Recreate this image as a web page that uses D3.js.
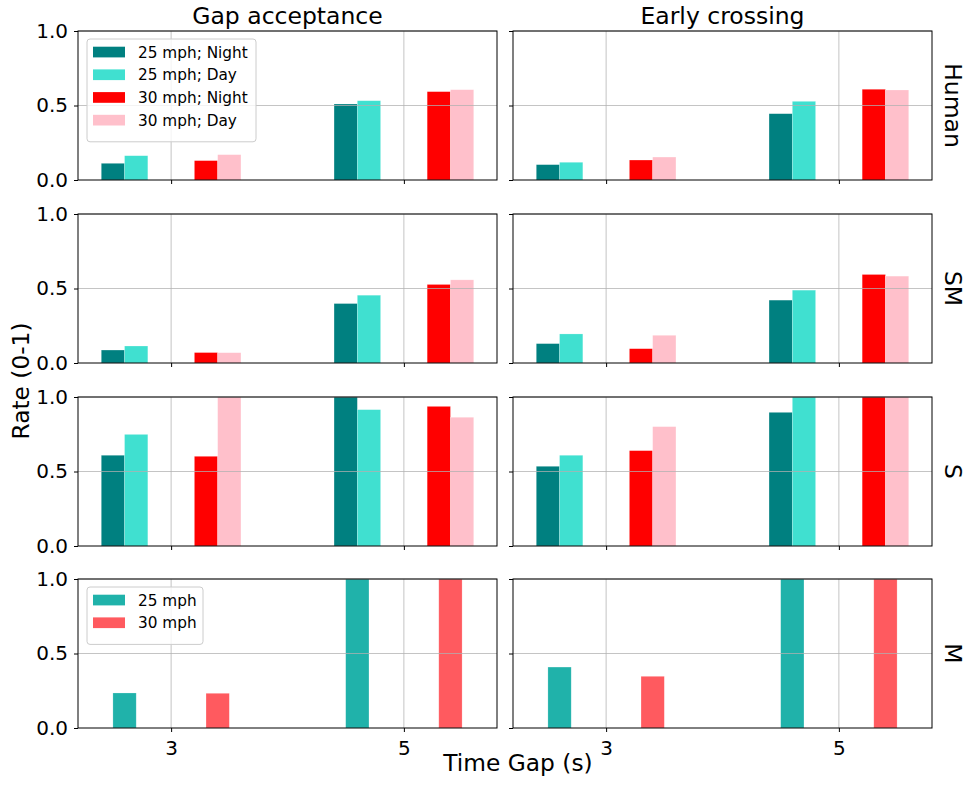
<!DOCTYPE html>
<html>
<head>
<meta charset="utf-8">
<script src="https://cdn.jsdelivr.net/npm/d3@7"></script>
<style>
  html, body { margin: 0; padding: 0; background: #fff; }
  svg { display: block; font-family: "DejaVu Sans", sans-serif; }
</style>
</head>
<body>
<svg id="chart" width="968" height="785"></svg>
<script>
// Time gaps (s) shown on the x axis
const timeGaps = [3, 5];
const xTickLabels = ["3", "5"];
const yTicks = [0, 0.5, 1.0];

// Column and row headers
const panelTitles = ["Gap acceptance", "Early crossing"];
const rowLabels = ["Human", "SM", "S", "M"];

// Series for the first three rows (speed × lighting)
const conditionNames = ["25 mph; Night", "25 mph; Day", "30 mph; Night", "30 mph; Day"];
const conditionColors = ["#008080", "#40e0d0", "#ff0000", "#ffc0cb"];

// Series for the last row (speed only)
const speedNames = ["25 mph", "30 mph"];
const speedColors = ["#20b2aa", "#ff5a5f"];

// Rates per series, values at [3 s, 5 s]
const humanGapAcceptance = [
  [0.112, 0.510],
  [0.163, 0.532],
  [0.130, 0.593],
  [0.170, 0.606]
];
const humanEarlyCrossing = [
  [0.103, 0.445],
  [0.119, 0.528],
  [0.134, 0.609],
  [0.154, 0.604]
];
const smGapAcceptance = [
  [0.087, 0.399],
  [0.114, 0.455],
  [0.070, 0.527],
  [0.069, 0.558]
];
const smEarlyCrossing = [
  [0.130, 0.422],
  [0.195, 0.489],
  [0.096, 0.594],
  [0.186, 0.583]
];
const sGapAcceptance = [
  [0.609, 1.000],
  [0.749, 0.915],
  [0.602, 0.937],
  [1.000, 0.864]
];
const sEarlyCrossing = [
  [0.535, 0.897],
  [0.609, 1.000],
  [0.640, 1.000],
  [0.801, 1.000]
];
const mGapAcceptance = [
  [0.235, 1.000],
  [0.233, 1.000]
];
const mEarlyCrossing = [
  [0.409, 1.000],
  [0.347, 1.000]
];

const rows = [
  { label: rowLabels[0], panels: [humanGapAcceptance, humanEarlyCrossing], names: conditionNames, colors: conditionColors, legend: true },
  { label: rowLabels[1], panels: [smGapAcceptance, smEarlyCrossing], names: conditionNames, colors: conditionColors, legend: false },
  { label: rowLabels[2], panels: [sGapAcceptance, sEarlyCrossing], names: conditionNames, colors: conditionColors, legend: false },
  { label: rowLabels[3], panels: [mGapAcceptance, mEarlyCrossing], names: speedNames, colors: speedColors, legend: true }
];

// Layout
const panelW = 419, panelH = 149;
const colX = [78, 513];
const rowY = [31, 214, 397, 579];
const barW = 0.2;

const svg = d3.select("#chart");

const x = d3.scaleLinear().domain([2.2, 5.8]).range([0, panelW]);
const y = d3.scaleLinear().domain([0, 1]).range([panelH, 0]);

// Bar centre relative to its time gap: speed groups at ±0.4, lighting pairs at ±0.1
function barCenter(seriesIndex, nSeries, gap) {
  if (nSeries === 4) {
    const speed = Math.floor(seriesIndex / 2);
    const light = seriesIndex % 2;
    return gap + (speed ? 0.4 : -0.4) + (light ? 0.1 : -0.1);
  }
  return gap + (seriesIndex ? 0.4 : -0.4);
}

rows.forEach((row, ri) => {
  row.panels.forEach((series, ci) => {
    const g = svg.append("g").attr("transform", `translate(${colX[ci]},${rowY[ri]})`);

    // bars
    series.forEach((vals, si) => {
      g.selectAll(null)
        .data(vals.map((v, gi) => ({ gap: timeGaps[gi], v })))
        .join("rect")
        .attr("x", d => x(barCenter(si, series.length, d.gap) - barW / 2))
        .attr("width", d => x(barCenter(si, series.length, d.gap) + barW / 2) - x(barCenter(si, series.length, d.gap) - barW / 2))
        .attr("y", d => y(d.v))
        .attr("height", d => y(0) - y(d.v))
        .attr("fill", row.colors[si])
        .attr("stroke", "#ffffff")
        .attr("stroke-opacity", 0.35)
        .attr("stroke-width", 0.6);
    });

    // grid (drawn over bars)
    g.selectAll(null).data(timeGaps).join("line")
      .attr("x1", d => x(d)).attr("x2", d => x(d))
      .attr("y1", 0).attr("y2", panelH)
      .attr("stroke", "#b0b0b0").attr("stroke-opacity", 0.75).attr("stroke-width", 1);
    g.selectAll(null).data(yTicks.filter(t => t > 0)).join("line")
      .attr("x1", 0).attr("x2", panelW)
      .attr("y1", d => y(d)).attr("y2", d => y(d))
      .attr("stroke", "#b0b0b0").attr("stroke-opacity", 0.75).attr("stroke-width", 1);

    // y axis
    const yAxis = d3.axisLeft(y).tickValues(yTicks).tickSize(4).tickPadding(6)
      .tickFormat(ci === 0 ? d3.format(".1f") : () => "");
    const ya = g.append("g").call(yAxis);
    ya.select(".domain").remove();
    ya.selectAll("text").attr("font-size", 20).attr("fill", "#000").attr("font-family", "DejaVu Sans");
    ya.selectAll("line").attr("stroke", "#000");

    // x axis
    const xAxis = d3.axisBottom(x).tickValues(timeGaps).tickSize(4).tickPadding(9)
      .tickFormat((d, i) => ri === rows.length - 1 ? xTickLabels[i] : "");
    const xa = g.append("g").attr("transform", `translate(0,${panelH})`).call(xAxis);
    xa.select(".domain").remove();
    xa.selectAll("text").attr("font-size", 20).attr("fill", "#000").attr("font-family", "DejaVu Sans");
    xa.selectAll("line").attr("stroke", "#000");

    // frame
    g.append("rect").attr("x", 0).attr("y", 0).attr("width", panelW).attr("height", panelH)
      .attr("fill", "none").attr("stroke", "#000").attr("stroke-width", 1);

    // column titles
    if (ri === 0) {
      g.append("text").attr("x", panelW / 2).attr("y", -7)
        .attr("text-anchor", "middle").attr("font-size", 23.5).text(panelTitles[ci]);
    }

    // legend (left column only)
    if (ci === 0 && row.legend) {
      const lg = g.append("g").attr("transform", "translate(9,8)");
      const rowStep = 22.7;
      const boxW = row.names.length === 4 ? 169 : 116;
      const boxH = 8 + row.names.length * rowStep + 4;
      lg.append("rect").attr("width", boxW).attr("height", boxH).attr("rx", 3)
        .attr("fill", "#fff").attr("fill-opacity", 0.8)
        .attr("stroke", "#cccccc").attr("stroke-width", 1);
      row.names.forEach((name, i) => {
        const cy = 13 + i * rowStep;
        lg.append("rect").attr("x", 6).attr("y", cy - 5.3).attr("width", 32).attr("height", 10.7)
          .attr("fill", row.colors[i]);
        lg.append("text").attr("x", 51).attr("y", cy).attr("dy", "0.36em")
          .attr("font-size", 15.3).text(name);
      });
    }

    // row label on the right
    if (ci === 1) {
      g.append("text")
        .attr("transform", `translate(${panelW + 13},${panelH / 2}) rotate(90)`)
        .attr("text-anchor", "middle").attr("font-size", 23.5).text(row.label);
    }
  });
});

// shared axis labels
svg.append("text").attr("x", 518).attr("y", 771).attr("text-anchor", "middle")
  .attr("font-size", 23.3).text("Time Gap (s)");
svg.append("text").attr("transform", "translate(29,381) rotate(-90)")
  .attr("text-anchor", "middle").attr("font-size", 23.3).text("Rate (0-1)");
</script>
</body>
</html>
